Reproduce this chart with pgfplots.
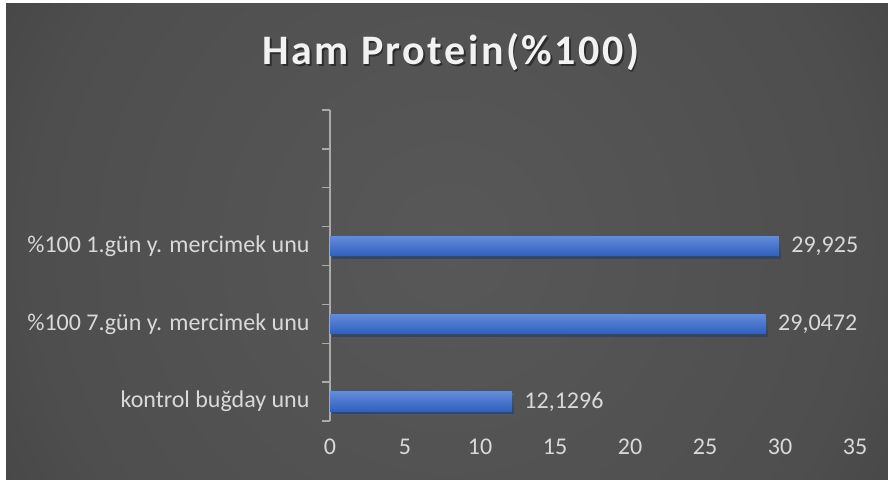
\documentclass[border=0pt]{standalone}
\usepackage{fontspec}
\setmainfont{Carlito}
\newfontfamily\titlefont[LetterSpace=6]{Carlito}
\usepackage{pgfplots}
\pgfplotsset{compat=1.18}
\definecolor{bgA}{RGB}{88,88,88}
\definecolor{bgB}{RGB}{78,78,78}
\definecolor{bgC}{RGB}{56,56,56}
\definecolor{bgD}{RGB}{36,36,36}
\definecolor{axisgray}{RGB}{170,170,170}
\definecolor{labgray}{RGB}{217,217,217}
\definecolor{titlecol}{RGB}{242,242,242}
\definecolor{bartop}{RGB}{98,140,216}
\definecolor{barbot}{RGB}{47,96,192}
\pgfdeclareradialshading{chartbg}{\pgfpoint{0bp}{0bp}}{color(0bp)=(bgA); color(20bp)=(bgB); color(35bp)=(bgC); color(50bp)=(bgD)}
\begin{document}
\begin{tikzpicture}[x=1bp,y=1bp]
\useasboundingbox (0,0) rectangle (888,480);
\fill[white] (0,0) rectangle (888,480);
\begin{scope}
\clip (6,0) rectangle (888,476);
\shade[shading=chartbg] (-70,-285) rectangle (970,755);
\end{scope}
\node[anchor=base, font=\titlefont\bfseries\fontsize{42bp}{50bp}\selectfont, text=black, opacity=0.45] at (452.5,413.5) {Ham Protein(\%100)};
\node[anchor=base, font=\titlefont\bfseries\fontsize{42bp}{50bp}\selectfont, text=titlecol] at (451,415) {Ham Protein(\%100)};
\begin{axis}[
  at={(330bp,59bp)}, anchor=south west,
  scale only axis, width=525bp, height=311bp,
  xmin=0, xmax=35, ymin=-0.5, ymax=7.5,
  axis lines*=left,
  x axis line style={draw=none},
  y axis line style={draw=axisgray, line width=1.3bp, -},
  xtick={0,5,10,15,20,25,30,35},
  ytick={0,2,4},
  yticklabels={kontrol buğday unu, \%100 7.gün y. mercimek unu, \%100 1.gün y. mercimek unu},
  minor ytick={-0.5,0.5,1.5,2.5,3.5,4.5,5.5,6.5,7.5},
  major tick length=0pt, minor tick length=8bp, tick align=outside,
  tick style={draw=axisgray, line width=1.3bp},
  major x tick style={draw=none},
  tick label style={font=\fontsize{24bp}{28bp}\selectfont, text=labgray},
  yticklabel style={xshift=-17bp},
  xticklabel style={anchor=north, text height=16bp, text depth=0bp, yshift=-14bp},
  /pgf/number format/assume math mode=true,
  clip=false,
  xbar, bar width=19.5bp, bar shift=0pt,
  point meta=explicit symbolic,
  nodes near coords,
  every node near coord/.append style={font=\fontsize{24bp}{28bp}\selectfont, text=labgray, anchor=west, xshift=9bp},
]
\addplot[draw=none, top color=bartop, bottom color=barbot,
  preaction={fill=black, opacity=0.4, transform canvas={xshift=2bp,yshift=-3bp}}]
  coordinates {(12.1296,0) [12,1296]};
\addplot[draw=none, top color=bartop, bottom color=barbot,
  preaction={fill=black, opacity=0.4, transform canvas={xshift=2bp,yshift=-3bp}}]
  coordinates {(29.0472,2) [29,0472]};
\addplot[draw=none, top color=bartop, bottom color=barbot,
  preaction={fill=black, opacity=0.4, transform canvas={xshift=2bp,yshift=-3bp}}]
  coordinates {(29.925,4) [29,925]};
\end{axis}
\end{tikzpicture}
\end{document}
